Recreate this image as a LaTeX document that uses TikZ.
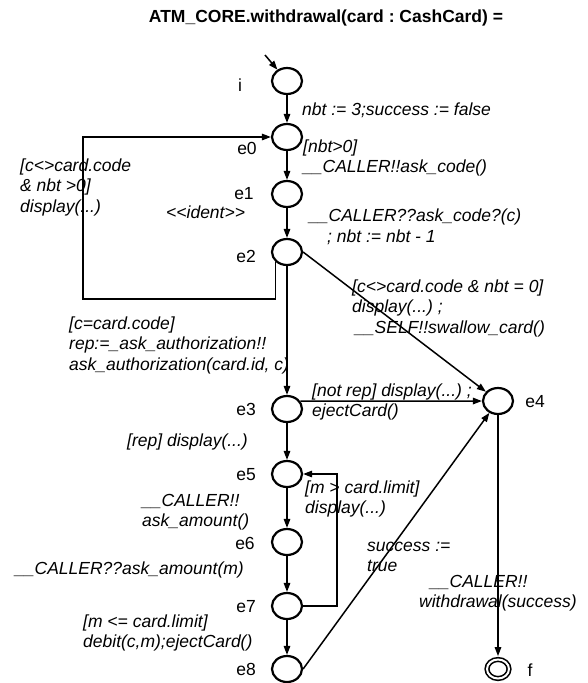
\documentclass[tikz,border=0pt]{standalone}
\usepackage{fontspec}
\setmainfont{Liberation Sans}[Ligatures=TeXOff]
\usetikzlibrary{arrows.meta,shapes.geometric}
\frenchspacing

\begin{document}
\begin{tikzpicture}[x=1pt,y=-1pt,
    stnode/.style={ellipse,draw,line width=2.2pt,minimum width=30pt,minimum height=26pt,inner sep=0pt},
    trans/.style={-{Triangle[length=9pt,width=6.5pt]},line width=1.5pt},
    nm/.style={font=\fontsize{17.5}{20.5}\selectfont,inner sep=0pt},
    lbl/.style={font=\fontsize{17.5}{20.5}\selectfont\itshape,anchor=west,align=left,inner sep=0pt}]
  \useasboundingbox (0,0) rectangle (587,683);
  \node[nm,font=\fontsize{17.5}{20.5}\selectfont\bfseries] (title) at (326,18)
    {ATM\_CORE.withdrawal(card : CashCard) =};
  % states
  \node[stnode] (i) at (287,81) {};
  \node[stnode] (e0) at (287,137) {};
  \node[stnode] (e1) at (287,194) {};
  \node[stnode] (e2) at (287,252) {};
  \node[stnode] (e3) at (287,409) {};
  \node[stnode] (e4) at (498,401) {};
  \node[stnode] (e5) at (287,474) {};
  \node[stnode] (e6) at (287,542) {};
  \node[stnode] (e7) at (287,606) {};
  \node[stnode] (e8) at (287,669) {};
  \node[stnode,minimum width=22pt,minimum height=19pt,line width=1.6pt,
    double,double distance=2pt] (f) at (498,669) {};
  % state names
  \node[nm] (nmi) at (240,85) {i};
  \node[nm] (nme0) at (247,148) {e0};
  \node[nm] (nme1) at (244,194) {e1};
  \node[nm] (nme2) at (246,256) {e2};
  \node[nm] (nme3) at (246,409) {e3};
  \node[nm] (nme4) at (535,402) {e4};
  \node[nm] (nme5) at (246,475) {e5};
  \node[nm] (nme6) at (245,543) {e6};
  \node[nm] (nme7) at (246,607) {e7};
  \node[nm] (nme8) at (246,669) {e8};
  \node[nm] (nmf) at (530,670) {f};
  % transition labels
  \node[lbl] (lblinit) at (302,110) {nbt := 3;success := false};
  \node[lbl] (lblloop) at (20,187) {[c<>card.code\\\& nbt >0]\\display(...)};
  \node[lbl] (lblident) at (166,212) {<<ident>>};
  \node[lbl] (lblask) at (303,158) {[nbt>0]\\\_\_CALLER!!ask\_code()};
  \node[lbl] (lblcode) at (309,227) {\_\_CALLER??ask\_code?(c)\\\hspace*{18pt}; nbt := nbt - 1};
  \node[lbl] (lblswallow) at (352,308)
    {[c<>card.code \& nbt = 0]\\display(...) ;\\\hspace*{3pt}\_\_SELF!!swallow\_card()};
  \node[lbl] (lblauth) at (69,345)
    {[c=card.code]\\rep:=\_ask\_authorization!!\\ask\_authorization(card.id, c)};
  \node[lbl] (lblrep) at (127,442) {[rep] display(...)};
  \node[lbl] (lblnotrep) at (312,402) {[not rep] display(...) ;\\ejectCard()};
  \node[lbl] (lbllimit) at (305,499) {[m > card.limit]\\display(...)};
  \node[lbl] (lblamount) at (142,512) {\_\_CALLER!!\\ask\_amount()};
  \node[lbl] (lblgetamount) at (15,570) {\_\_CALLER??ask\_amount(m)};
  \node[lbl] (lbldebit) at (83,633) {[m <= card.limit]\\debit(c,m);ejectCard()};
  \node[lbl] (lblsuccess) at (367,557) {success :=\\true};
  \node[lbl] (lblresult) at (419,593) {\hspace*{11pt}\_\_CALLER!!\\withdrawal(success)};
  % transitions
  \coordinate (init) at (265,55);
  \coordinate (loopa) at (83,299);
  \coordinate (loopb) at (337,606);
  \draw[trans] (init) -- (i);
  \draw[trans] (i) -- (e0);
  \draw[trans] (e0) -- (e1);
  \draw[trans] (e1) -- (e2);
  \draw[trans] (e2.south west) |- (loopa) |- (e0);
  \draw[trans] (e2) -- (e3);
  \draw[trans] (e2.east) -- (e4);
  \draw[trans] (e3.30) -- (e4);
  \draw[trans] (e3) -- (e5);
  \draw[trans] (e5) -- (e6);
  \draw[trans] (e6) -- (e7);
  \draw[trans] (e7) -- (loopb) |- (e5);
  \draw[trans] (e7) -- (e8);
  \draw[trans] (e8.east) -- (e4);
  \draw[trans,shorten >=2.6pt] (e4) -- (f);
\end{tikzpicture}
\end{document}
